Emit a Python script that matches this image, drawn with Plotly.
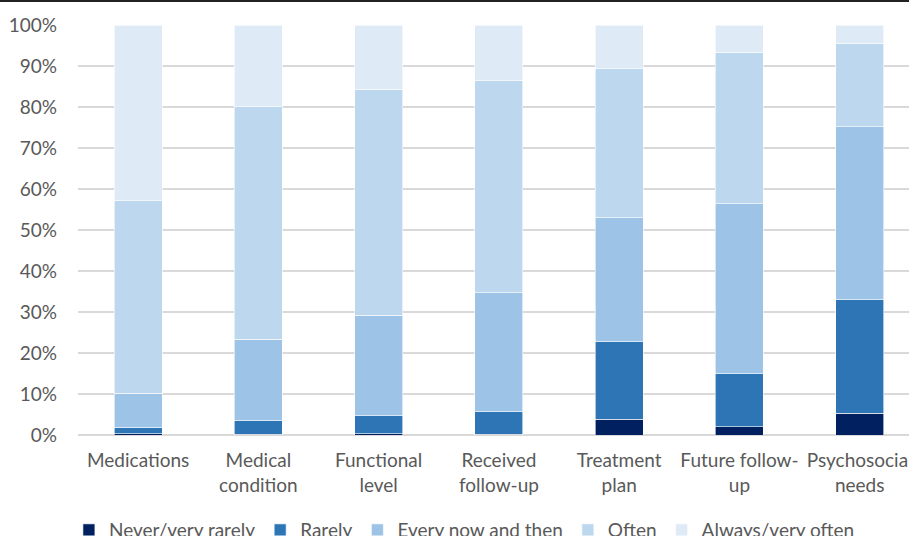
import plotly.graph_objects as go

categories = ["Medications", "Medical<br>condition", "Functional<br>level", "Received<br>follow-up",
              "Treatment<br>plan", "Future follow-<br>up", "Psychosocial<br>needs"]
series_names = ["Never/very rarely", "Rarely", "Every now and then", "Often", "Always/very often"]
never = [0.3, 0.2, 0.3, 0.2, 3.8, 2.0, 5.3]
rarely = [1.6, 3.3, 4.4, 5.5, 19.0, 13.0, 27.7]
every_now = [8.3, 19.8, 24.5, 29.0, 30.2, 41.4, 42.2]
often = [46.9, 56.8, 55.0, 51.7, 36.3, 36.9, 20.2]
always = [42.9, 19.9, 15.8, 13.6, 10.7, 6.7, 4.6]
colors = ["#002060", "#2E75B6", "#9DC3E6", "#BDD7EE", "#DEEBF7"]
y_ticks = list(range(0, 101, 10))
y_labels = [f"{v}%" for v in y_ticks]

FONT = "Lato"
FS = 19
fig = go.Figure()
for name, vals, col in zip(series_names, [never, rarely, every_now, often, always], colors):
    fig.add_trace(go.Bar(x=categories, y=vals, name=name, marker=dict(color=col, line=dict(color="white", width=0.6))))

W, H = 909, 536
mt, mb, ml, mr = 25, 101, 78, 0
ph = H - mt - mb
fig.update_layout(
    width=W, height=H, barmode="stack", bargap=0.6,
    paper_bgcolor="white", plot_bgcolor="white",
    margin=dict(t=mt, b=mb, l=ml, r=mr, autoexpand=False),
    font=dict(family=FONT, size=FS, color="#595959"),
    legend=dict(orientation="h", x=0.465, xanchor="center", y=-(530 - 435) / ph, yanchor="middle",
                traceorder="normal", font=dict(size=FS, color="#595959"), itemwidth=30,
                tracegroupgap=0),
    showlegend=True,
)
fig.update_xaxes(range=[-0.5, 6.41], showgrid=False, showline=False, ticks="", ticklabelstandoff=12,
                 tickfont=dict(size=FS, color="#595959"))
fig.update_yaxes(range=[0, 100], tickvals=y_ticks, ticktext=y_labels, showgrid=True, gridcolor="#D9D9D9",
                 gridwidth=1.5, zeroline=True, zerolinecolor="#D9D9D9", zerolinewidth=1.5, showline=False,
                 ticks="", ticklabelstandoff=20, tickfont=dict(size=FS, color="#595959"))
fig.add_shape(type="line", xref="paper", yref="paper", x0=-ml / (W - ml - mr), x1=1.0,
              y0=1 + (mt - 1) / ph, y1=1 + (mt - 1) / ph, line=dict(color="#222222", width=2))
fig.write_html("out.html")
